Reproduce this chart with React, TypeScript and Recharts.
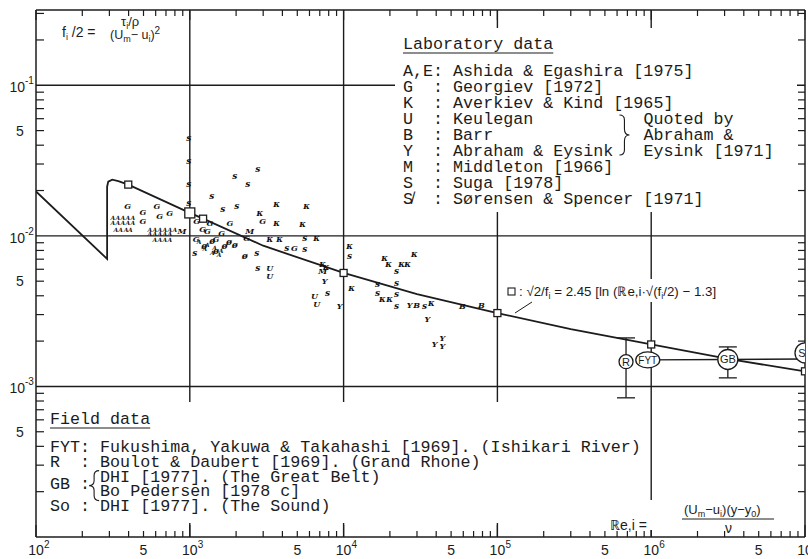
import React from "react";
import { ComposedChart, XAxis, YAxis, Line, Scatter, ReferenceLine, ErrorBar } from "recharts";

const ink = "#1c1c1c";
const sans = "'Liberation Sans', Arial, sans-serif";
const mono = "'Liberation Mono', 'Courier New', monospace";
const hand = "'DejaVu Serif', serif";

// axis ranges: Re,i (x) and f_i/2 (y), both logarithmic
const reDomain = [1e2, 1e7];
const fDomain = [1e-4, 0.3162];
const reDecades = [1e2, 1e3, 1e4, 1e5, 1e6];
const fDecades = [1e-4, 1e-3, 1e-2, 1e-1];
const reGrid = [1e3, 1e4, 1e5, 1e6];
const fGrid = [1e-1, 1e-2, 1e-3];

const mults = [1, 2, 3, 4, 5, 6, 7, 8, 9];
const reTicks = [...reDecades.flatMap((d) => mults.map((m) => m * d)), 1e7];
const fTicks = fDecades.flatMap((d) => mults.map((m) => m * d)).filter((v) => v < 0.32);

// friction curve with its marked points
const curveRe = [100, 290, 290, 295, 313, 343, 398, 1000, 1220, 3000, 1e4, 3e4, 1e5, 3e5, 1e6, 3.3e6, 1e7];
const curveF = [0.0197, 0.00703, 0.0212, 0.0229, 0.0236, 0.0231, 0.0219, 0.0142, 0.013, 0.0086, 0.00567, 0.0041, 0.00307, 0.0024, 0.0019, 0.00151, 0.00126];
const boxRe = [398, 1220, 1e4, 1e5, 1e6, 1e7];
const boxF = [0.0219, 0.013, 0.00567, 0.00307, 0.0019, 0.00126];
const bigBoxRe = [1000];
const bigBoxF = [0.0142];

// laboratory data [Re, f/2]
const sugaPts: [number, number][] = [
  [986, 0.0444], [986, 0.0316], [986, 0.0222], [986, 0.0166], [1390, 0.0185], [1960, 0.0251], [2766, 0.028],
  [2382, 0.0222], [1637, 0.0151], [2018, 0.0158], [5585, 0.0097], [5585, 0.00819], [10930, 0.00736],
  [22100, 0.00584], [1077, 0.0077], [2723, 0.0077], [2766, 0.00612], [7870, 0.00417], [16600, 0.00479],
  [16600, 0.00417], [22100, 0.00486], [22100, 0.0041], [22100, 0.00341], [33600, 0.00341], [4266, 0.0083],
];
const georgievPts: [number, number][] = [
  [395, 0.0158], [495, 0.0145], [495, 0.0126], [611, 0.0158], [741, 0.0142], [638, 0.0136], [1109, 0.0126],
  [1213, 0.0111], [1300, 0.0108], [1480, 0.0095], [1610, 0.0104], [1820, 0.0122], [2979, 0.0126],
  [2344, 0.0097], [4786, 0.0083], [1100, 0.0095], [1350, 0.0122],
];
const averkievPts: [number, number][] = [
  [2851, 0.0142], [3673, 0.0163], [5754, 0.0158], [3673, 0.0122], [5420, 0.012], [6680, 0.0097],
  [7310, 0.0065], [7700, 0.0062], [10930, 0.00858], [18450, 0.00714], [19590, 0.0065], [23800, 0.0065],
  [26060, 0.0065], [28900, 0.00759], [11270, 0.0045], [17900, 0.0038], [19900, 0.0038], [37200, 0.00357],
  [3311, 0.0095], [3840, 0.0095],
];
const keuleganPts: [number, number][] = [[3311, 0.00612], [3311, 0.00541], [6460, 0.00398], [6680, 0.00352]];
const abrahamPts: [number, number][] = [
  [7530, 0.00501], [9420, 0.00341], [26850, 0.00347], [35100, 0.0028], [43900, 0.00209], [39000, 0.00191], [43900, 0.00185],
];
const barrPts: [number, number][] = [[29800, 0.00347], [59300, 0.00341], [78700, 0.00347]];
const middletonPts: [number, number][] = [[888, 0.0108], [7310, 0.00584], [2455, 0.0108]];
const sorensenPts: [number, number][] = [
  [1240, 0.00858], [1480, 0.00794], [1680, 0.0085], [1960, 0.0087], [2280, 0.00736], [1400, 0.0093], [1800, 0.0091],
];
const ashidaPts: [number, number][] = [
  [316, 0.01315], [340, 0.01315], [367, 0.01315], [395, 0.01315], [426, 0.01315],
  [316, 0.0122], [340, 0.0122], [367, 0.0122], [395, 0.0122], [426, 0.0122],
  [330, 0.011], [355, 0.011], [385, 0.011], [410, 0.011],
  [550, 0.011], [593, 0.011], [638, 0.011], [688, 0.011], [741, 0.011], [799, 0.011],
  [550, 0.0103], [593, 0.0103], [638, 0.0103], [688, 0.0103], [741, 0.0103],
  [593, 0.0095], [638, 0.0095], [688, 0.0095], [741, 0.0095],
  [1150, 0.0092], [1300, 0.0088], [1450, 0.0084], [1600, 0.008], [1250, 0.0082], [1400, 0.0078], [1550, 0.0075],
];

// field data: Re, f/2, error bar low / high
const fieldNames = ["R", "FYT", "GB", "So"];
const fieldRe = [6.86e5, 9.5e5, 3.15e6, 1e7];
const fieldF = [0.00146, 0.0015, 0.00151, 0.00167];
const fieldLo = [0.00084, null, 0.00114, null];
const fieldHi = [0.0021, null, 0.00183, null];
const linkRe = [9.5e5, 3.15e6, 1e7];
const linkF = [0.0015, 0.00151, 0.00152];

const toPts = (pts: [number, number][]) => pts.map(([re, f]) => ({ re, f }));
const zip = (re: number[], f: number[]) => re.map((r, i) => ({ re: r, f: f[i] }));

const split = (v: number) => {
  const e = Math.floor(Math.log10(v) + 1e-9);
  return { m: Math.round(v / Math.pow(10, e)), e };
};

const BottomTick = ({ x, y, payload }: any) => {
  const { m, e } = split(payload.value);
  return (
    <g>
      <line x1={x} x2={x} y1={y} y2={y - (m === 1 ? 12 : 6)} stroke={ink} strokeWidth={1.2} />
      {m === 1 && (
        <>
          <text x={x} y={y + 18} textAnchor="middle" fontSize={14} fontFamily={sans} fill={ink}>10</text>
          <text x={x + 8} y={y + 11} fontSize={10} fontFamily={sans} fill={ink}>{e}</text>
        </>
      )}
      {m === 5 && <text x={x} y={y + 18} textAnchor="middle" fontSize={14} fontFamily={sans} fill={ink}>5</text>}
    </g>
  );
};

const TopTick = ({ x, y, payload }: any) => {
  const { m } = split(payload.value);
  return <line x1={x} x2={x} y1={y} y2={y + (m === 1 ? 10 : 6)} stroke={ink} strokeWidth={1.2} />;
};

const LeftTick = ({ x, y, payload }: any) => {
  const { m, e } = split(payload.value);
  return (
    <g>
      {m !== 1 && <line x1={x} x2={x + 8} y1={y} y2={y} stroke={ink} strokeWidth={1.2} />}
      {m === 1 && e > -4 && (
        <>
          <text x={x - 11} y={y + 7} textAnchor="end" fontSize={14} fontFamily={sans} fill={ink}>10</text>
          <text x={x - 11} y={y - 1} fontSize={10} fontFamily={sans} fill={ink}>{e}</text>
        </>
      )}
      {m === 5 && <text x={x - 16} y={y + 5} textAnchor="middle" fontSize={14} fontFamily={sans} fill={ink}>5</text>}
    </g>
  );
};

const RightTick = ({ x, y, payload }: any) => {
  const { m } = split(payload.value);
  return m === 1 ? <g /> : <line x1={x} x2={x - 7} y1={y} y2={y} stroke={ink} strokeWidth={1.2} />;
};

const letter = (ch: string, size = 9) => (p: any) => (
  <text x={p.cx} y={p.cy} textAnchor="middle" dominantBaseline="central" fontSize={size}
    fontStyle="italic" fontWeight={700} fontFamily={hand} fill="#111">{ch}</text>
);

const box = (s: number) => (p: any) => (
  <rect x={p.cx - s / 2} y={p.cy - s / 2} width={s} height={s} fill="#fff" stroke={ink} strokeWidth={1.3} />
);

const fieldShape = (p: any) => {
  const name = p.payload.name;
  const rx = name === "R" ? 7 : name === "FYT" ? 12 : 10;
  const ry = name === "R" ? 7 : name === "FYT" ? 8 : 10;
  return (
    <g>
      <ellipse cx={p.cx} cy={p.cy} rx={rx} ry={ry} fill="#fff" stroke={ink} strokeWidth={1.3} />
      <text x={p.cx} y={p.cy + 4} textAnchor="middle" fontSize={name === "FYT" ? 10 : 11} fontFamily={sans} fill={ink}>{name}</text>
    </g>
  );
};

const fieldData = fieldNames.map((name, i) => ({
  name, re: fieldRe[i], f: fieldF[i],
  err: fieldLo[i] == null ? undefined : [fieldF[i] - (fieldLo[i] as number), (fieldHi[i] as number) - fieldF[i]],
}));

const labRows = [
  ["A,E:", "Ashida & Egashira [1975]"],
  ["G  :", "Georgiev [1972]"],
  ["K  :", "Averkiev & Kind [1965]"],
  ["U  :", "Keulegan"],
  ["B  :", "Barr"],
  ["Y  :", "Abraham & Eysink"],
  ["M  :", "Middleton [1966]"],
  ["S  :", "Suga [1978]"],
  ["S\u0338  :", "Sørensen & Spencer [1971]"],
];
const quoted = ["Quoted by", "Abraham &", "Eysink [1971]"];

function Annotations() {
  const fs = 16.7;
  const cw = fs * 0.6;
  const lx = 403, ly = 76, ld = 16;
  const fx = 50, fy = 452, fd = 14.8;
  const mt = { fontFamily: mono, fill: ink, fontSize: fs, style: { whiteSpace: "pre" as const } };
  const sub = { fontSize: 9, dy: 3 };
  return (
    <svg width={808} height={559} style={{ position: "absolute", left: 0, top: 0, pointerEvents: "none" }}>
      {/* defining formula, top left */}
      <g fontFamily={sans} fill={ink} fontSize={14}>
        <text x={62} y={37} style={{ whiteSpace: "pre" }}>f<tspan {...sub}>i</tspan><tspan dy={-3}> /2 =</tspan></text>
        <text x={121} y={26} fontSize={13}>τ<tspan {...sub}>i</tspan><tspan dy={-3}>/ρ</tspan></text>
        <text x={110} y={39} fontSize={12.5}>(U<tspan {...sub}>m</tspan><tspan dy={-3}>− u</tspan><tspan {...sub}>i</tspan><tspan dy={-3}>)</tspan><tspan dy={-5} fontSize={10}>2</tspan></text>
      </g>

      {/* laboratory data legend */}
      <rect x={395} y={28} width={402} height={184} fill="#fff" />
      <text x={lx} y={49} {...mt}>Laboratory data</text>
      <line x1={lx} x2={lx + 15 * cw} y1={53} y2={53} stroke={ink} strokeWidth={1.2} />
      {labRows.map(([code, desc], i) => (
        <g key={code}>
          <text x={lx} y={ly + i * ld} {...mt}>{code}</text>
          <text x={lx + 5 * cw} y={ly + i * ld} {...mt}>{desc}</text>
        </g>
      ))}
      <path d={`M ${lx + 22 * cw - 4} ${ly + 3 * ld - 9} q 5 0 5 5 v 9 q 0 6 5 6 q -5 0 -5 6 v 9 q 0 5 -5 5`}
        fill="none" stroke={ink} strokeWidth={1.1} />
      {quoted.map((t, i) => (
        <text key={t} x={lx + 24 * cw} y={ly + (3 + i) * ld} {...mt}>{t}</text>
      ))}

      {/* friction law label */}
      <rect x={503} y={279} width={230} height={23} fill="#fff" />
      <g fontFamily={sans} fill={ink} fontSize={13.3}>
        <rect x={508} y={288} width={7} height={7} fill="none" stroke={ink} strokeWidth={1.1} />
        <text x={519} y={296}>: √2/f<tspan {...sub}>i</tspan><tspan dy={-3}> = 2.45 [ln (ℝe,i·√(f</tspan><tspan {...sub}>i</tspan><tspan dy={-3}>/2) − 1.3]</tspan></text>
      </g>
      <line x1={532} y1={302} x2={515} y2={313} stroke={ink} strokeWidth={1} />

      {/* field data legend */}
      <rect x={46} y={402} width={600} height={121} fill="#fff" />
      <text x={fx} y={424} {...mt}>Field data</text>
      <line x1={fx} x2={fx + 10 * cw} y1={428} y2={428} stroke={ink} strokeWidth={1.2} />
      <text x={fx} y={fy} {...mt}>FYT: Fukushima, Yakuwa &amp; Takahashi [1969]. (Ishikari River)</text>
      <text x={fx} y={fy + fd} {...mt}>R  : Boulot &amp; Daubert [1969]. (Grand Rhone)</text>
      <text x={fx} y={fy + 2.5 * fd} {...mt}>GB :</text>
      <path d={`M ${fx + 5 * cw - 1} ${fy + 2 * fd - 11} q -5 0 -5 5 v 5 q 0 5 -5 5 q 5 0 5 5 v 5 q 0 5 5 5`}
        fill="none" stroke={ink} strokeWidth={1.1} />
      <text x={fx + 5 * cw} y={fy + 2 * fd} {...mt}>DHI [1977]. (The Great Belt)</text>
      <text x={fx + 5 * cw} y={fy + 3 * fd} {...mt}>Bo Pedersen [1978 c]</text>
      <text x={fx} y={fy + 4 * fd} {...mt}>So : DHI [1977]. (The Sound)</text>

      {/* Reynolds number definition */}
      <rect x={606} y={500} width={176} height={30} fill="#fff" />
      <g fontFamily={sans} fill={ink} fontSize={14}>
        <text x={610} y={530}>ℝe,i =</text>
        <text x={684} y={514} fontSize={13}>(U<tspan {...sub}>m</tspan><tspan dy={-3}>−u</tspan><tspan {...sub}>i</tspan><tspan dy={-3}>)(y−y</tspan><tspan {...sub}>0</tspan><tspan dy={-3}>)</tspan></text>
        <line x1={682} x2={774} y1={519} y2={519} stroke={ink} strokeWidth={1} />
        <text x={725} y={533}>ν</text>
      </g>
    </svg>
  );
}

export default function App() {
  return (
    <div style={{ position: "absolute", left: 0, top: 0, width: 808, height: 559, background: "#fff" }}>
      <ComposedChart width={808} height={559} margin={{ top: 9, right: 2, bottom: 21, left: 35 }}>
        <XAxis dataKey="re" type="number" scale="log" domain={reDomain} allowDataOverflow ticks={reTicks}
          interval={0} tickSize={0} tickMargin={0} tickLine={false} tick={<BottomTick />} height={1}
          axisLine={{ stroke: ink, strokeWidth: 1.5 }} />
        <XAxis xAxisId="top" orientation="top" dataKey="re" type="number" scale="log" domain={reDomain}
          allowDataOverflow ticks={reTicks} interval={0} tickSize={0} tickMargin={0} tickLine={false}
          tick={<TopTick />} height={1} axisLine={{ stroke: ink, strokeWidth: 1.5 }} />
        <YAxis dataKey="f" type="number" scale="log" domain={fDomain} allowDataOverflow ticks={fTicks}
          interval={0} tickSize={0} tickMargin={0} tickLine={false} tick={<LeftTick />} width={1}
          axisLine={{ stroke: ink, strokeWidth: 1.5 }} />
        <YAxis yAxisId="right" orientation="right" dataKey="f" type="number" scale="log" domain={fDomain}
          allowDataOverflow ticks={fTicks} interval={0} tickSize={0} tickMargin={0} tickLine={false}
          tick={<RightTick />} width={1} axisLine={{ stroke: ink, strokeWidth: 1.5 }} />

        {reGrid.map((v) => (
          <ReferenceLine key={`x${v}`} x={v} stroke={ink} strokeWidth={1.4} />
        ))}
        {fGrid.map((v) => (
          <ReferenceLine key={`y${v}`} y={v} stroke={ink} strokeWidth={1.4} />
        ))}

        <Line data={zip(curveRe, curveF)} dataKey="f" type="linear" stroke={ink} strokeWidth={1.8}
          dot={false} isAnimationActive={false} />
        <Line data={zip(linkRe, linkF)} dataKey="f" type="linear" stroke={ink} strokeWidth={1.4}
          dot={false} isAnimationActive={false} />

        <Scatter data={toPts(ashidaPts)} dataKey="f" shape={letter("A", 6)} isAnimationActive={false} />
        <Scatter data={toPts(sugaPts)} dataKey="f" shape={letter("s")} isAnimationActive={false} />
        <Scatter data={toPts(georgievPts)} dataKey="f" shape={letter("G", 8)} isAnimationActive={false} />
        <Scatter data={toPts(averkievPts)} dataKey="f" shape={letter("κ")} isAnimationActive={false} />
        <Scatter data={toPts(keuleganPts)} dataKey="f" shape={letter("U", 8)} isAnimationActive={false} />
        <Scatter data={toPts(abrahamPts)} dataKey="f" shape={letter("Y", 8)} isAnimationActive={false} />
        <Scatter data={toPts(barrPts)} dataKey="f" shape={letter("B", 8)} isAnimationActive={false} />
        <Scatter data={toPts(middletonPts)} dataKey="f" shape={letter("M", 8)} isAnimationActive={false} />
        <Scatter data={toPts(sorensenPts)} dataKey="f" shape={letter("ø")} isAnimationActive={false} />

        <Scatter data={zip(boxRe, boxF)} dataKey="f" shape={box(7)} isAnimationActive={false} />
        <Scatter data={zip(bigBoxRe, bigBoxF)} dataKey="f" shape={box(10)} isAnimationActive={false} />

        <Scatter data={fieldData.filter((d) => d.err)} dataKey="f" shape={() => <g />} isAnimationActive={false}>
          <ErrorBar dataKey="err" direction="y" width={9} stroke={ink} strokeWidth={1.3} />
        </Scatter>
        <Scatter data={fieldData} dataKey="f" shape={fieldShape} isAnimationActive={false} />
      </ComposedChart>
      <Annotations />
    </div>
  );
}
